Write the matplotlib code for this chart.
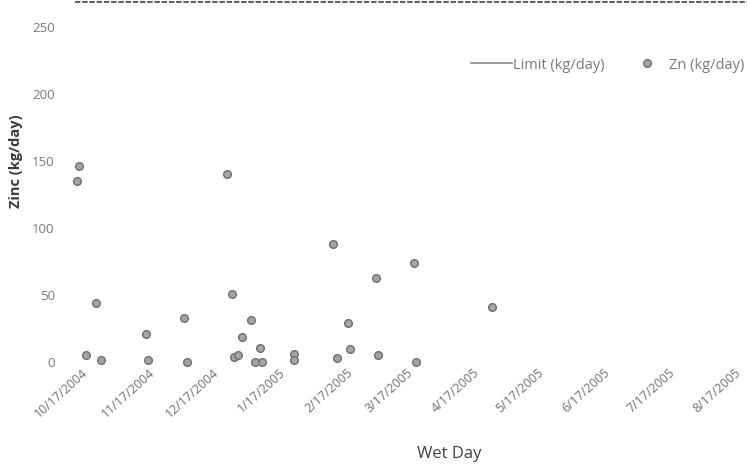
import matplotlib
matplotlib.use("Agg")
from matplotlib import pyplot as plt
from matplotlib.dates import date2num
from matplotlib.lines import Line2D
from matplotlib.transforms import ScaledTranslation
import pandas as pd

# wet-day zinc loads
wet_days = [
	"2004-10-17", "2004-10-18", "2004-10-21", "2004-10-26", "2004-10-28",
	"2004-11-18", "2004-11-19", "2004-12-06", "2004-12-07", "2004-12-26",
	"2004-12-28", "2004-12-29", "2004-12-31", "2005-01-02", "2005-01-06",
	"2005-01-08", "2005-01-10", "2005-01-11", "2005-01-26", "2005-01-26",
	"2005-02-13", "2005-02-15", "2005-02-20", "2005-02-21", "2005-03-05",
	"2005-03-06", "2005-03-23", "2005-03-24", "2005-04-28",
]
zn_kg_day = [
	135, 146, 5, 44, 1.5,
	21, 1.5, 33, 0, 140,
	51, 3.5, 5, 19, 31,
	0, 10.5, 0, 6, 1.5,
	88, 3, 29, 10, 63,
	5, 74, 0, 41,
]
tick_labels = [
	"10/17/2004", "11/17/2004", "12/17/2004", "1/17/2005", "2/17/2005",
	"3/17/2005", "4/17/2005", "5/17/2005", "6/17/2005", "7/17/2005", "8/17/2005",
]
y_ticks = [0, 50, 100, 150, 200, 250]

plt.rcParams["font.family"] = ["Open Sans", "DejaVu Sans"]

fig = plt.figure(figsize=(7.47, 4.69), dpi=100)
ax = fig.add_axes([77/747, 107/469, 670/747, 335/469])

xs = pd.to_datetime(wet_days)
zn, = ax.plot(xs, zn_kg_day, linestyle="none", marker="o", markersize=5.5,
	markerfacecolor="#a4a4a4", markeredgecolor="#6e6e6e", markeredgewidth=1.0,
	clip_on=False, label="Zn (kg/day)")
# limit series: legend entry only
limit_line, = ax.plot([], [], color="#8a8a8a", lw=1.2, label="Limit (kg/day)")

x0 = date2num(pd.Timestamp("2004-10-17"))
ax.set_xlim(x0, x0 + 670/2.148)
ax.set_ylim(0, 250)

tick_pos = date2num(pd.to_datetime(tick_labels, format="%m/%d/%Y"))
ax.set_xticks(tick_pos)
ax.set_xticklabels(tick_labels)
ax.set_yticks(y_ticks)
ax.tick_params(axis="both", length=0, colors="#7a7a7a")
ax.tick_params(axis="y", pad=16, labelsize=9.5)
ax.tick_params(axis="x", pad=3, labelsize=9)
shift = ScaledTranslation(5/100, 0, fig.dpi_scale_trans)
for lab in ax.get_xticklabels():
	lab.set_rotation(42)
	lab.set_ha("right")
	lab.set_rotation_mode("anchor")
	lab.set_color("#707070")
	lab.set_transform(lab.get_transform() + shift)

for s in ax.spines.values():
	s.set_visible(False)

fig.text(16/747, 1 - 161/469, "Zinc (kg/day)", rotation=90, ha="center", va="center",
	fontsize=10.5, fontweight="bold", color="#3a3a3a")
fig.text(449/747, 1 - 454/469, "Wet Day", ha="center", va="center",
	fontsize=12, color="#404040")

handles = [limit_line, zn]
fig.legend(handles, [h.get_label() for h in handles], ncol=2, frameon=False,
	loc="center left", bbox_to_anchor=(458/747, 1 - 65/469), fontsize=10.5,
	handlelength=2.8, handletextpad=0.1, columnspacing=1.5, labelcolor="#7a7a7a")

# border line along the top of the chart area
fig.add_artist(Line2D([75/747, 1.0], [1 - 2/469, 1 - 2/469], color="#505050",
	lw=1.3, linestyle=(0, (3, 1)), transform=fig.transFigure))

fig.savefig("out.png", dpi=100)
